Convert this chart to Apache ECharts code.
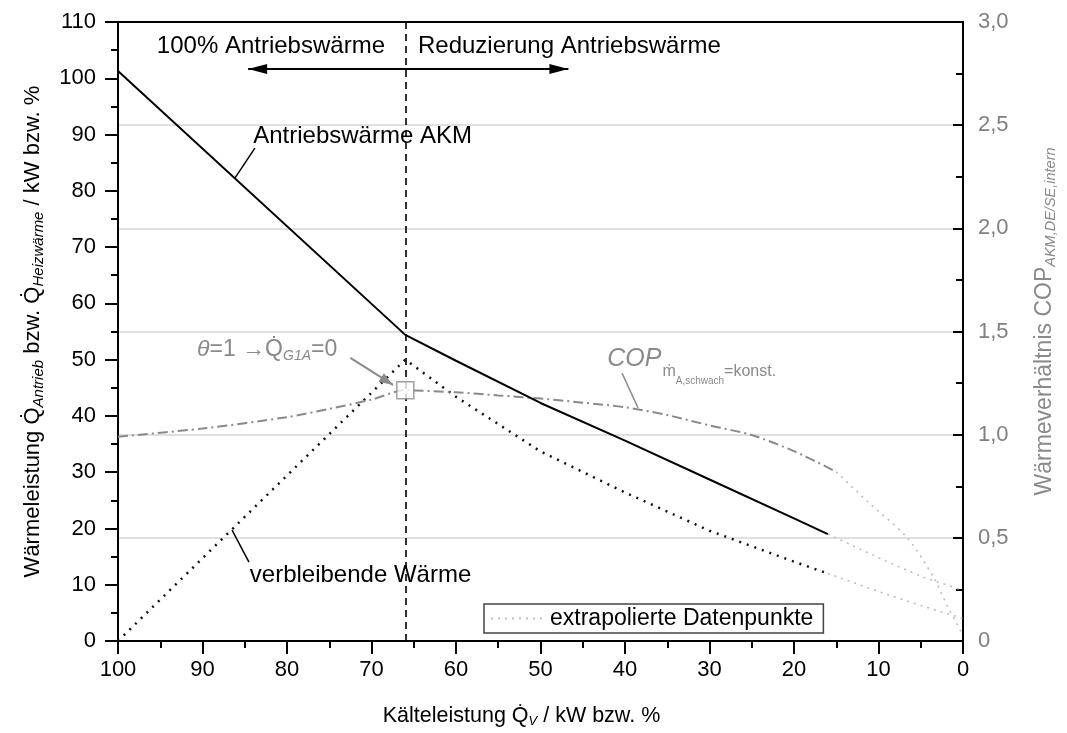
<!DOCTYPE html>
<html>
<head>
<meta charset="utf-8">
<script src="https://cdn.jsdelivr.net/npm/echarts@6/dist/echarts.min.js"></script>
<style>
  html, body { margin: 0; padding: 0; background: #fff; }
  #chart { width: 1067px; height: 733px; }
</style>
</head>
<body>
<div id="chart"></div>
<script>
const FONT = "'Liberation Sans', Arial, sans-serif";
const GREY = '#8a8a8a';
const EXTRA = '#bdbdbd';

// Kälteleistung in % (x) and the curves
const driveX = [100, 66, 60, 50, 40, 30, 20, 16];
const driveHeat = [101.3, 54.4, 49.8, 42.3, 35.6, 28.7, 21.8, 19.0];
const restX = [100, 66, 60, 50, 40, 30, 20, 16];
const restHeat = [0, 50.0, 43.4, 33.7, 26.4, 19.6, 14.1, 12.0];
const copX = [100, 90, 80, 75, 70, 66, 60, 55, 50, 45, 40, 35, 30, 25, 20, 15];
const copVal = [0.99, 1.03, 1.085, 1.125, 1.17, 1.215, 1.205, 1.19, 1.175, 1.155, 1.133, 1.095, 1.045, 0.998, 0.92, 0.82];

// extrapolierte Datenpunkte
const extDriveX = [16, 10, 5, 0];
const extDrive = [19.0, 14.8, 11.5, 9.0];
const extRestX = [16, 10, 5, 0];
const extRest = [12.0, 8.8, 6.3, 4.0];
const extCopX = [15, 11.4, 6.6, 3.5, 1.8, 0];
const extCop = [0.82, 0.68, 0.50, 0.31, 0.165, 0.03];

// operating point theta = 1
const opX = [66];
const opCop = [1.215];
const splitX = 66;

const rightLabels = ['0', '0,5', '1,0', '1,5', '2,0', '2,5', '3,0'];

const zip = (xs, ys) => xs.map((x, i) => [x, ys[i]]);

const tickLine = { color: '#000', width: 2 };

const extraSeries = (xs, ys, axis, smooth) => ({
    name: 'extrapolierte Datenpunkte',
    type: 'line',
    yAxisIndex: axis,
    data: zip(xs, ys),
    smooth: smooth,
    symbol: 'none',
    itemStyle: { color: 'rgba(0,0,0,0)' },
    lineStyle: { color: EXTRA, width: 1.6, type: [2, 5] }
});

const option = {
    animation: false,
    textStyle: { fontFamily: FONT },
    grid: { left: 118, right: 104, top: 22, bottom: 92 },
    legend: {
        data: ['extrapolierte Datenpunkte'],
        left: 484,
        top: 604,
        borderColor: '#444',
        borderWidth: 1.5,
        padding: [3, 10, 3, 6],
        itemWidth: 54,
        itemHeight: 12,
        textStyle: { fontSize: 23, color: '#000', fontFamily: FONT }
    },
    xAxis: [
        {
            type: 'value',
            inverse: true,
            min: 0,
            max: 100,
            interval: 10,
            position: 'bottom',
            axisLine: { onZero: false, lineStyle: tickLine },
            axisTick: { show: true, length: 13, lineStyle: tickLine },
            minorTick: { show: true, splitNumber: 2, length: 7, lineStyle: tickLine },
            axisLabel: { fontSize: 22, color: '#000', margin: 18 },
            splitLine: { show: false },
            name: '{n|Kälteleistung Q\u0307}{s|V}{n| / kW bzw. %}',
            nameLocation: 'middle',
            nameGap: 64,
            nameTextStyle: {
                padding: [0, 38, 0, 0],
                rich: {
                    n: { fontSize: 21.5, color: '#000', fontFamily: FONT },
                    s: { fontSize: 13, color: '#000', fontStyle: 'italic', fontFamily: FONT, padding: [10, 0, 0, 0] }
                }
            }
        },
        {
            type: 'value',
            inverse: true,
            min: 0,
            max: 100,
            position: 'top',
            axisLine: { onZero: false, lineStyle: tickLine },
            axisTick: { show: false },
            axisLabel: { show: false },
            splitLine: { show: false }
        }
    ],
    yAxis: [
        {
            type: 'value',
            min: 0,
            max: 110,
            interval: 10,
            position: 'left',
            axisLine: { show: true, onZero: false, lineStyle: tickLine },
            axisTick: { show: true, length: 13, lineStyle: tickLine },
            minorTick: { show: true, splitNumber: 2, length: 7, lineStyle: tickLine },
            axisLabel: { fontSize: 22, color: '#000', margin: 22 },
            splitLine: { show: false },
            name: '{n|Wärmeleistung Q\u0307}{s|Antrieb}{n| bzw. Q\u0307}{s|Heizwärme}{n| / kW bzw. %}',
            nameLocation: 'middle',
            nameRotate: 90,
            nameGap: 72,
            nameTextStyle: {
                rich: {
                    n: { fontSize: 22, color: '#000', fontFamily: FONT },
                    s: { fontSize: 15, color: '#000', fontStyle: 'italic', fontFamily: FONT, padding: [12, 0, 0, 0] }
                }
            }
        },
        {
            type: 'value',
            min: 0,
            max: 3,
            interval: 0.5,
            position: 'right',
            axisLine: { show: true, onZero: false, lineStyle: tickLine },
            axisTick: { show: true, inside: true, length: 10, lineStyle: tickLine },
            minorTick: { show: true, splitNumber: 2, length: 7, lineStyle: tickLine },
            axisLabel: {
                fontSize: 22,
                color: '#808080',
                margin: 15,
                formatter: (v) => rightLabels[Math.round(v * 2)]
            },
            splitLine: { show: true, lineStyle: { color: '#d6d6d6', width: 1.5 } },
            name: '{n|Wärmeverhältnis COP}{s|AKM,DE/SE,intern}',
            nameLocation: 'middle',
            nameRotate: 90,
            nameGap: 68,
            nameTextStyle: {
                padding: [0, 0, 0, 20],
                rich: {
                    n: { fontSize: 23, color: GREY, fontFamily: FONT },
                    s: { fontSize: 14.5, color: GREY, fontStyle: 'italic', fontFamily: FONT, padding: [12, 0, 0, 0] }
                }
            }
        }
    ],
    series: [
        {
            name: 'Antriebswärme AKM',
            type: 'line',
            data: zip(driveX, driveHeat),
            symbol: 'none',
            lineStyle: { color: '#000', width: 2 },
            z: 5,
            markLine: {
                silent: true,
                symbol: ['none', 'none'],
                label: { show: false },
                lineStyle: { color: '#000', type: [7, 5], width: 1.6 },
                data: [{ xAxis: splitX }]
            }
        },
        {
            name: 'verbleibende Wärme',
            type: 'line',
            data: zip(restX, restHeat),
            symbol: 'none',
            lineStyle: { color: '#111', width: 2.5, type: [2, 6] }
        },
        {
            name: 'COP',
            type: 'line',
            yAxisIndex: 1,
            data: zip(copX, copVal),
            smooth: 0.3,
            symbol: 'none',
            lineStyle: { color: GREY, width: 2, type: [10, 4, 2, 4] }
        },
        extraSeries(extDriveX, extDrive, 0, false),
        extraSeries(extRestX, extRest, 0, false),
        extraSeries(extCopX, extCop, 1, 0.3),
        {
            name: 'Betriebspunkt',
            type: 'scatter',
            yAxisIndex: 1,
            data: zip(opX, opCop),
            symbol: 'rect',
            symbolSize: 17,
            itemStyle: { color: '#fff', borderColor: GREY, borderWidth: 1.5 },
            z: 10
        }
    ]
};

const chart = echarts.init(document.getElementById('chart'));
chart.setOption(option);

// annotations, placed in data coordinates of the left axis
const P = (x, y) => chart.convertToPixel({ xAxisIndex: 0, yAxisIndex: 0 }, [x, y]);

function arrowHead(a, b, len, half, color) {
    const dx = b[0] - a[0];
    const dy = b[1] - a[1];
    const d = Math.hypot(dx, dy);
    const ux = dx / d;
    const uy = dy / d;
    const bx = b[0] - ux * len;
    const by = b[1] - uy * len;
    return {
        type: 'polygon',
        shape: { points: [b, [bx - uy * half, by + ux * half], [bx + uy * half, by - ux * half]] },
        style: { fill: color },
        z: 20
    };
}

function seg(a, b, color, width) {
    return {
        type: 'line',
        shape: { x1: a[0], y1: a[1], x2: b[0], y2: b[1] },
        style: { stroke: color, lineWidth: width },
        z: 20
    };
}

function label(at, text, extra) {
    const p = P(at[0], at[1]);
    return {
        type: 'text',
        x: p[0],
        y: p[1],
        z: 20,
        style: Object.assign({
            text: text,
            fontSize: 24,
            fontFamily: FONT,
            fill: '#000',
            align: 'left',
            verticalAlign: 'middle'
        }, extra || {})
    };
}

const arrowL = P(84.6, 101.65);
const arrowR = P(46.7, 101.65);
const thetaA = P(72.5, 50.3);
const thetaB = P(67.45, 45.5);

const graphics = [
    seg(arrowL, arrowR, '#000', 2),
    arrowHead(arrowR, arrowL, 19, 5, '#000'),
    arrowHead(arrowL, arrowR, 19, 5, '#000'),
    label([95.4, 105.6], '100% Antriebswärme'),
    label([64.5, 105.6], 'Reduzierung Antriebswärme'),
    label([84.0, 89.6], 'Antriebswärme AKM'),
    seg(P(83.8, 87.6), P(86.15, 82.3), '#000', 1.5),
    label([84.4, 11.7], 'verbleibende Wärme'),
    seg(P(86.5, 19.7), P(84.5, 14.0), '#000', 1.5),
    label([90.65, 51.7], '{g|θ}{t|=1 →Q\u0307}{s|G1A}{t|=0}', {
        fill: GREY,
        rich: {
            g: { fontSize: 23, fontStyle: 'italic', fontFamily: FONT, fill: GREY },
            t: { fontSize: 23, fontFamily: FONT, fill: GREY },
            s: { fontSize: 14, fontStyle: 'italic', fontFamily: FONT, fill: GREY, padding: [12, 0, 0, 0] }
        }
    }),
    seg(thetaA, thetaB, GREY, 2),
    arrowHead(thetaA, thetaB, 14, 5, GREY),
    label([42.1, 50.1], '{c|COP}{m|\u1E41}{s|A,schwach}{k|=konst.}', {
        fill: GREY,
        rich: {
            c: { fontSize: 25, fontStyle: 'italic', fontFamily: FONT, fill: GREY },
            m: { fontSize: 16, fontFamily: FONT, fill: GREY, padding: [26, 0, 0, 1] },
            s: { fontSize: 10, fontFamily: FONT, fill: GREY, padding: [44, 0, 0, 0] },
            k: { fontSize: 16, fontFamily: FONT, fill: GREY, padding: [26, 0, 0, 0] }
        }
    }),
    seg(P(40.35, 47.6), P(38.45, 41.4), GREY, 1.5)
];

chart.setOption({ graphic: graphics });
</script>
</body>
</html>
